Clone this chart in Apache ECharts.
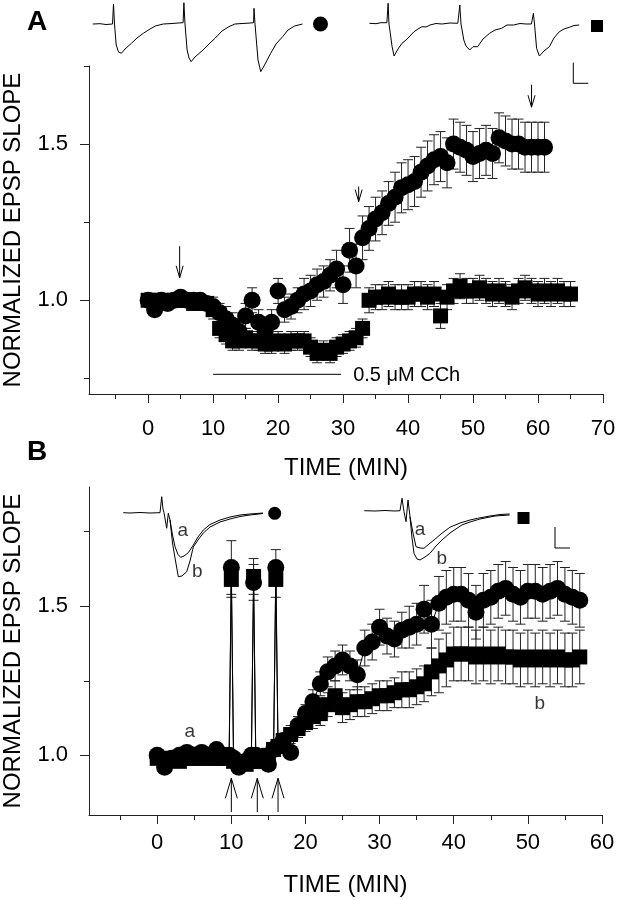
<!DOCTYPE html>
<html><head><meta charset="utf-8">
<script src="https://cdn.jsdelivr.net/npm/echarts@6/dist/echarts.min.js"></script>
<style>html,body{margin:0;padding:0;background:#fff}#c{width:621px;height:900px}</style>
</head><body><div id="c"></div><script>
// ---------- Panel A data ----------
const timeCircA = [0,1,2,3,4,5,6,7,8,9,10,11,12,13,14,15,16,17,18,19,20,21,22,23,24,25,26,27,28,29,30,31,32,33,34,35,36,37,38,39,40,41,42,43,44,45,46,47,48,49,50,51,52,53,54,55,56,57,58,59,60,61];
const circA = [1.00,0.97,1.00,0.99,1.00,1.01,1.00,1.00,1.00,0.99, 0.98,0.96,0.94,0.92,0.90,0.95,1.00,0.93,0.90,0.93, 1.03,0.97,0.98,1.00,1.02,1.03,1.05,1.06,1.08,1.10, 1.05,1.16,1.11,1.20,1.23,1.26,1.28,1.31,1.33,1.36, 1.37,1.38,1.41,1.43,1.45,1.46,1.44,1.50,1.49,1.48, 1.46,1.47,1.48,1.47,1.52,1.51,1.50,1.50,1.49,1.49, 1.49,1.49];
const circAErr = [0.02,0.02,0.02,0.02,0.02,0.02,0.02,0.02,0.02,0.02, 0.03,0.03,0.04,0.04,0.04,0.04,0.04,0.04,0.04,0.04, 0.04,0.04,0.04,0.04,0.05,0.05,0.05,0.05,0.05,0.06, 0.06,0.07,0.07,0.07,0.07,0.07,0.07,0.07,0.08,0.08, 0.08,0.08,0.08,0.08,0.08,0.08,0.08,0.08,0.08,0.08, 0.08,0.08,0.08,0.08,0.08,0.08,0.08,0.08,0.08,0.08, 0.08,0.08];
const timeSqA = [0,1,2,3,4,5,6,7,8,9,10,11,12,13,14,15,16,17,18,19,20,21,22,23,24,25,26,27,28,29,30,31,32,33,34,35,36,37,38,39,40,41,42,43,44,45,46,47,48,49,50,51,52,53,54,55,56,57,58,59,60,61,62,63,64,65];
const sqA = [1.00,1.00,0.99,1.00,1.00,1.00,1.00,0.99,0.99,0.99, 0.97,0.91,0.89,0.87,0.87,0.88,0.87,0.87,0.86,0.86, 0.87,0.86,0.87,0.87,0.87,0.85,0.83,0.84,0.83,0.85, 0.86,0.87,0.88,0.91,1.00,1.01,1.01,1.02,1.01,1.01, 1.01,1.02,1.02,1.01,1.02,0.95,1.01,1.03,1.045,1.03, 1.03,1.04,1.03,1.02,1.03,1.02,1.01,1.03,1.04,1.03, 1.02,1.03,1.02,1.03,1.02,1.02];
const sqAErr = [0.02,0.02,0.02,0.02,0.02,0.02,0.02,0.02,0.02,0.02, 0.03,0.03,0.03,0.03,0.03,0.03,0.03,0.03,0.03,0.03, 0.03,0.03,0.03,0.03,0.03,0.03,0.03,0.03,0.03,0.03, 0.03,0.03,0.03,0.03,0.04,0.04,0.04,0.04,0.04,0.04, 0.04,0.04,0.04,0.04,0.04,0.04,0.04,0.04,0.04,0.04, 0.04,0.04,0.04,0.04,0.04,0.04,0.04,0.04,0.04,0.04, 0.04,0.04,0.04,0.04,0.04,0.04];
// arrows in A: [time, from, to]
const arrowsA = [[4.85,1.173,1.072],[32.4,1.364,1.316],[59.0,1.69,1.618]];
// CCh bar: [start, end, level]
const cchBar = [[10,29.7,0.763]];
const cchText = '0.5 \u03bcM CCh';
const xTickMajorA = [0,10,20,30,40,50,60,70];
const xTickMinorA = [-5,5,15,25,35,45,55,65];
const yTickMajorA = [1.0,1.5];
const yTickMinorA = [0.75,1.25,1.75];

// ---------- Panel B data ----------
const timeB = [0,1,2,3,4,5,6,7,8,9,9.7,10,10.3,11,12,12.7,13,13.3,14,15,15.7,16,16.3,17,18,19,20,21,22,23,24,25,26,27,28,29,30,31,32,33,34,35,36,37,38,39,40,41,42,43,44,45,46,47,48,49,50,51,52,53,54,55,56,57];
const circB = [1.00,0.96,0.99,1.00,1.01,1.00,1.01,1.00,1.02,1.00, 1.00,1.63,0.99, 0.96,0.98, 1.00,1.58,1.00, 0.99,0.97, 1.02,1.63,1.03,
  1.05,1.01,1.10,1.14,1.18,1.24,1.28,1.30,1.32,1.30, 1.27,1.36,1.38,1.43,1.40,1.39,1.42,1.43,1.44,1.49, 1.44,1.51,1.53,1.54,1.54,1.52,1.48,1.52,1.53,1.55, 1.56,1.54,1.53,1.55,1.55,1.54,1.55,1.56,1.54,1.53, 1.52];
const circBErr = [0.01,0.01,0.01,0.01,0.01,0.01,0.01,0.01,0.01,0.01, 0.01,0.09,0.01, 0.01,0.01, 0.01,0.06,0.01, 0.01,0.01, 0.01,0.06,0.02,
  0.02,0.02,0.03,0.03,0.04,0.04,0.05,0.05,0.05,0.05, 0.05,0.06,0.06,0.06,0.06,0.06,0.06,0.07,0.07,0.08, 0.08,0.09,0.09,0.09,0.09,0.09,0.09,0.09,0.09,0.09, 0.09,0.09,0.09,0.09,0.09,0.09,0.09,0.09,0.09,0.09, 0.09];
const sqB = [0.99,0.99,0.99,0.98,0.99,0.99,0.99,0.99,0.99,0.99, 0.99,1.59,0.98, 0.98,0.97, 0.98,1.60,0.98, 0.98,1.00, 1.02,1.59,1.03,
  1.05,1.07,1.09,1.11,1.13,1.14,1.17,1.20,1.16,1.17, 1.18,1.18,1.19,1.20,1.20,1.21,1.22,1.22,1.23,1.24, 1.28,1.30,1.32,1.34,1.34,1.34,1.33,1.34,1.33,1.34, 1.33,1.33,1.32,1.33,1.32,1.33,1.32,1.33,1.32,1.32, 1.33];
const sqBErr = [0.01,0.01,0.01,0.01,0.01,0.01,0.01,0.01,0.01,0.01, 0.01,0.06,0.01, 0.01,0.01, 0.01,0.06,0.01, 0.01,0.01, 0.01,0.06,0.02,
  0.02,0.03,0.03,0.03,0.04,0.04,0.04,0.05,0.05,0.05, 0.05,0.05,0.05,0.05,0.05,0.05,0.06,0.06,0.06,0.06, 0.08,0.09,0.09,0.09,0.09,0.09,0.09,0.09,0.09,0.09, 0.09,0.09,0.09,0.09,0.09,0.09,0.09,0.09,0.09,0.09, 0.09];
const arrowsB = [[10.0,0.81,0.923],[13.5,0.81,0.923],[16.3,0.81,0.923]];
const labelsB = ['a','b'];
const labelsBT = [4.4,51.6];
const labelsBV = [1.078,1.173];
const xTickMajorB = [0,10,20,30,40,50,60];
const xTickMinorB = [-5,5,15,25,35,45,55];
const yTickMajorB = [1.0,1.5];
const yTickMinorB = [1.25,1.75];

// ---------- Inset recordings (arbitrary units: time, amplitude) ----------
const traceACirc = [[92.8,0],[100,0.3],[106,-0.5],[112.5,0],[113.5,20],[114.5,0],[116.2,-21],[118.5,-28],[121.4,-29.3],[125,-25],[131.4,-19.3],[137,-14],[143.3,-9.3],[150,-5],[155.3,-2],[163.2,0],[165.2,0.7],[172,0.5],[178,1],[183.1,1.3],[183.9,21.3],[185,0],[187.1,-26],[189,-34],[191.1,-37.7],[195,-33],[203,-26],[210,-19],[215,-14.3],[222,-7],[228.9,-2.7],[234.9,0],[242,0.5],[248,0.8],[253.6,1.3],[254,15.7],[255,0],[258,-36],[260.7,-47.7],[264,-42],[270.7,-29.3],[276,-20],[282.6,-12.7],[288,-6],[294.6,-2],[302.5,0]];
const traceASq = [[369.4,0.7],[376,0.3],[381,1.3],[386.9,1.3],[388.1,20.7],[389,0],[392.1,-22.7],[394.1,-32],[398,-25],[402,-19.3],[406,-16],[410,-12],[414,-7.7],[418,-5],[422,-2.7],[426,-3],[430,-1],[436,0.5],[441.9,0],[450,1],[457.8,0.7],[459.8,19],[461,0],[463.8,-16],[466,-22],[469.7,-26],[473,-22.7],[477.7,-22.7],[483,-15],[489.6,-9.3],[495,-6],[501.6,-4.3],[507,-1],[513.5,-1],[520,0.5],[526,0],[531.4,0],[533.4,10.7],[534.5,0],[536.6,-24.3],[539.4,-32],[544,-27],[549.4,-22.7],[554,-14],[559.3,-7.7],[564,-5],[569.3,-3.3],[574,-1.5],[579.2,-1]];
const markACirc = [[320.5,0]];
const markASq = [[597,-2]];
const scaleBarA = [[573.3,-38.7],[573.3,-59.3],[588.3,-59.3]];

const traceBCircA = [[123.3,0.3],[130,0],[140,0.5],[150,0],[160,0.3],[161.7,16.3],[163,4],[164,0.3],[166.7,-15.3],[168.3,-0.3],[170,-7],[172.5,-22],[175,-33.7],[178,-41.5],[180.7,-44.3],[184,-43],[188.3,-39.7],[193.3,-32],[198,-24],[203.3,-17],[210,-11.5],[220,-7],[230,-4],[240,-2],[250,-1],[263,0]];
const traceBCircB = [[170,-7],[172.5,-30],[175,-45],[178.3,-63.7],[182,-63],[186.7,-58.7],[190,-48],[193.3,-34],[198,-27],[203.3,-20],[210,-14],[220,-9],[230,-6],[240,-3.5],[250,-2],[263,-0.5]];
const traceBSqA = [[364.3,2.3],[375,2],[385,2.5],[395,2],[400,2.3],[402,14.7],[404,1.3],[406,-8.7],[408,13],[410,-3.7],[413,-20],[416,-33.7],[420,-35],[424,-35.3],[429,-31],[434,-27],[441,-21],[449.8,-14.3],[460,-10],[470,-7],[477.7,-5.3],[490,-3],[500,-1.5],[509.6,-1]];
const traceBSqB = [[410,-3.7],[412,-25],[414,-40.3],[417,-46],[420,-47],[425,-44],[430,-40.3],[436,-33],[441.9,-27],[450,-20],[461.8,-12],[470,-9],[480,-6],[495,-3],[509.6,-2]];
const markBCirc = [[274.7,-0.3]];
const markBSq = [[523.5,-5]];
const scaleBarB = [[555,-14],[555,-35],[570,-35]];
const insetLabelsB = [['a',182.7,-18],['b',197.3,-58.7],['a',420,-17],['b',441.9,-45.3]];

// ---------- build ----------
const FONT = "'Liberation Sans', Arial, sans-serif";
const AX = '#222';
const zip = (t, v) => t.map((x, i) => [x, v[i]]);
const zip3 = (t, v, e) => t.map((x, i) => [x, v[i], e[i]]);

function errRender(capHalf) {
  return function (params, api) {
    const x = api.value(0), y = api.value(1), e = api.value(2);
    const p1 = api.coord([x, y + e]), p2 = api.coord([x, y - e]);
    const st = { stroke: '#222', lineWidth: 1, fill: null };
    return { type: 'group', children: [
      { type: 'line', shape: { x1: p1[0], y1: p1[1], x2: p2[0], y2: p2[1] }, style: st },
      { type: 'line', shape: { x1: p1[0] - capHalf, y1: p1[1], x2: p1[0] + capHalf, y2: p1[1] }, style: st },
      { type: 'line', shape: { x1: p2[0] - capHalf, y1: p2[1], x2: p2[0] + capHalf, y2: p2[1] }, style: st }
    ]};
  };
}
function arrowRender(hw, hl) {
  return function (params, api) {
    const t = api.value(0), a = api.value(1), b = api.value(2);
    const p1 = api.coord([t, a]), p2 = api.coord([t, b]);
    const dir = p2[1] > p1[1] ? 1 : -1;
    const st = { stroke: '#000', lineWidth: 1, fill: null };
    return { type: 'group', children: [
      { type: 'line', shape: { x1: p1[0], y1: p1[1], x2: p2[0], y2: p2[1] }, style: st },
      { type: 'polyline', shape: { points: [[p2[0] - hw, p2[1] - dir * hl], [p2[0], p2[1]], [p2[0] + hw, p2[1] - dir * hl]] }, style: st }
    ]};
  };
}
function cchRender(params, api) {
  const s = api.coord([api.value(0), api.value(2)]);
  const e = api.coord([api.value(1), api.value(2)]);
  return { type: 'group', children: [
    { type: 'line', shape: { x1: s[0], y1: s[1], x2: e[0], y2: e[1] }, style: { stroke: '#000', lineWidth: 1 } },
    { type: 'text', style: { x: e[0] + 12, y: e[1] + 1, text: cchText, fill: '#000', font: "20px 'Liberation Sans', Arial, sans-serif", textAlign: 'left', textVerticalAlign: 'middle' } }
  ]};
}

function mainX(grid, min, max, majors, minors, margin, nameGap) {
  return [
    { type: 'value', gridIndex: grid, min, max, position: 'bottom',
      axisLine: { show: true, onZero: false, lineStyle: { color: AX, width: 1 } },
      axisTick: { show: true, customValues: minors, length: 5, lineStyle: { color: AX } },
      axisLabel: { customValues: majors, fontSize: 22, color: '#000', margin, fontFamily: FONT, formatter: v => String(v) },
      splitLine: { show: false },
      name: 'TIME (MIN)', nameLocation: 'middle', nameGap, nameTextStyle: { fontSize: 24, color: '#000', fontFamily: FONT } },
    { type: 'value', gridIndex: grid, min, max, position: 'bottom', offset: 0,
      axisLine: { show: false, onZero: false }, axisTick: { show: true, customValues: majors, length: 9, lineStyle: { color: AX } },
      axisLabel: { show: false }, splitLine: { show: false } }
  ];
}
function mainY(grid, min, max, majors, minors) {
  return [
    { type: 'value', gridIndex: grid, min, max, position: 'left',
      axisLine: { show: true, onZero: false, lineStyle: { color: AX, width: 1 } },
      axisTick: { show: true, customValues: minors, length: 5, lineStyle: { color: AX } },
      axisLabel: { customValues: majors, fontSize: 22, color: '#000', margin: 21, fontFamily: FONT, formatter: v => v.toFixed(1) },
      splitLine: { show: false },
      name: 'NORMALIZED EPSP SLOPE', nameLocation: 'middle', nameRotate: 90, nameGap: 64,
      nameTextStyle: { fontSize: 24, color: '#000', fontFamily: FONT } },
    { type: 'value', gridIndex: grid, min, max, position: 'left', offset: 0,
      axisLine: { show: false, onZero: false }, axisTick: { show: true, customValues: majors, length: 9, lineStyle: { color: AX } },
      axisLabel: { show: false }, splitLine: { show: false } }
  ];
}
function insetAxis(grid, min, max) {
  return { type: 'value', gridIndex: grid, min, max, show: false, splitLine: { show: false } };
}

const xAxes = [].concat(
  mainX(0, -9.1, 70, xTickMajorA, xTickMinorA, 24, 62),
  mainX(1, -9.2, 60, xTickMajorB, xTickMinorB, 17, 58),
  [insetAxis(2, 0, 621), insetAxis(3, 0, 621)]
);
const yAxes = [].concat(
  mainY(0, 0.70, 1.75, yTickMajorA, yTickMinorA),
  mainY(1, 0.80, 1.90, yTickMajorB, yTickMinorB),
  [insetAxis(2, -66, 24), insetAxis(3, -77, 33)]
);

const BLACK = { color: '#000', opacity: 1 };
const traceLine = (data, xi, yi) => ({ type: 'line', xAxisIndex: xi, yAxisIndex: yi, data, showSymbol: false, symbol: 'none',
  lineStyle: { color: '#000', width: 1 }, silent: true, z: 5 });
const marker = (data, xi, yi, symbol, size) => ({ type: 'scatter', xAxisIndex: xi, yAxisIndex: yi, data, symbol, symbolSize: size,
  itemStyle: BLACK, silent: true, z: 5 });

const series = [
  // Panel A
  { type: 'custom', xAxisIndex: 0, yAxisIndex: 0, renderItem: errRender(5), data: zip3(timeSqA, sqA, sqAErr), encode: { x: 0, y: 1 }, z: 1, silent: true, clip: false },
  { type: 'custom', xAxisIndex: 0, yAxisIndex: 0, renderItem: errRender(5), data: zip3(timeCircA, circA, circAErr), encode: { x: 0, y: 1 }, z: 1, silent: true, clip: false },
  { type: 'scatter', xAxisIndex: 0, yAxisIndex: 0, data: zip(timeSqA, sqA), symbol: 'rect', symbolSize: 15, itemStyle: BLACK, z: 2, silent: true },
  { type: 'scatter', xAxisIndex: 0, yAxisIndex: 0, data: zip(timeCircA, circA), symbol: 'circle', symbolSize: 17, itemStyle: BLACK, z: 3, silent: true },
  { type: 'custom', xAxisIndex: 0, yAxisIndex: 0, renderItem: arrowRender(3.5, 12), data: arrowsA, encode: { x: 0, y: 1 }, z: 4, silent: true, clip: false },
  { type: 'custom', xAxisIndex: 0, yAxisIndex: 0, renderItem: cchRender, data: cchBar, encode: { x: 0, y: 2 }, z: 4, silent: true, clip: false },
  // Panel B
  { type: 'custom', xAxisIndex: 2, yAxisIndex: 2, renderItem: errRender(5), data: zip3(timeB, sqB, sqBErr), encode: { x: 0, y: 1 }, z: 1, silent: true, clip: false },
  { type: 'custom', xAxisIndex: 2, yAxisIndex: 2, renderItem: errRender(5), data: zip3(timeB, circB, circBErr), encode: { x: 0, y: 1 }, z: 1, silent: true, clip: false },
  { type: 'line', xAxisIndex: 2, yAxisIndex: 2, data: zip(timeB, sqB), symbol: 'rect', symbolSize: 15, showAllSymbol: true,
    itemStyle: BLACK, lineStyle: { color: '#000', width: 1 }, z: 2, silent: true },
  { type: 'line', xAxisIndex: 2, yAxisIndex: 2, data: zip(timeB, circB), symbol: 'circle', symbolSize: 17, showAllSymbol: true,
    itemStyle: BLACK, lineStyle: { color: '#000', width: 1 }, z: 3, silent: true },
  { type: 'custom', xAxisIndex: 2, yAxisIndex: 2, renderItem: arrowRender(6, 20), data: arrowsB, encode: { x: 0, y: 1 }, z: 4, silent: true, clip: false },
  { type: 'scatter', xAxisIndex: 2, yAxisIndex: 2, data: labelsB.map((s, i) => ({ value: [labelsBT[i], labelsBV[i]], label: { formatter: s } })),
    symbolSize: 0, z: 4, silent: true,
    label: { show: true, position: 'inside', color: '#000', fontSize: 19, fontFamily: FONT } },
  // Inset A
  traceLine(traceACirc, 4, 4), traceLine(traceASq, 4, 4), traceLine(scaleBarA, 4, 4),
  marker(markACirc, 4, 4, 'circle', 15), marker(markASq, 4, 4, 'rect', 12),
  // Inset B
  traceLine(traceBCircA, 5, 5), traceLine(traceBCircB, 5, 5), traceLine(traceBSqA, 5, 5), traceLine(traceBSqB, 5, 5), traceLine(scaleBarB, 5, 5),
  marker(markBCirc, 5, 5, 'circle', 13), marker(markBSq, 5, 5, 'rect', 12),
  { type: 'scatter', xAxisIndex: 5, yAxisIndex: 5, data: insetLabelsB.map(d => ({ value: [d[1], d[2]], label: { formatter: d[0] } })),
    symbolSize: 0, z: 6, silent: true,
    label: { show: true, position: 'inside', color: '#000', fontSize: 19, fontFamily: FONT } }
];

const G = { containLabel: false, outerBoundsMode: 'none' };
const chart = echarts.init(document.getElementById('c'), null, { renderer: 'canvas' });
chart.setOption({
  animation: false,
  backgroundColor: '#fff',
  textStyle: { fontFamily: FONT },
  grid: [
    Object.assign({ left: 89, top: 66, width: 514, height: 328 }, G),
    Object.assign({ left: 89, top: 487, width: 513, height: 328 }, G),
    Object.assign({ left: 0, top: 0, width: 621, height: 90 }, G),
    Object.assign({ left: 0, top: 480, width: 621, height: 110 }, G)
  ],
  xAxis: xAxes,
  yAxis: yAxes,
  series,
  graphic: [
    { type: 'text', left: 27, top: 8, style: { text: 'A', font: "bold 28px 'Liberation Sans', Arial, sans-serif", fill: '#000' } },
    { type: 'text', left: 27, top: 438, style: { text: 'B', font: "bold 28px 'Liberation Sans', Arial, sans-serif", fill: '#000' } }
  ]
});
</script></body></html>
